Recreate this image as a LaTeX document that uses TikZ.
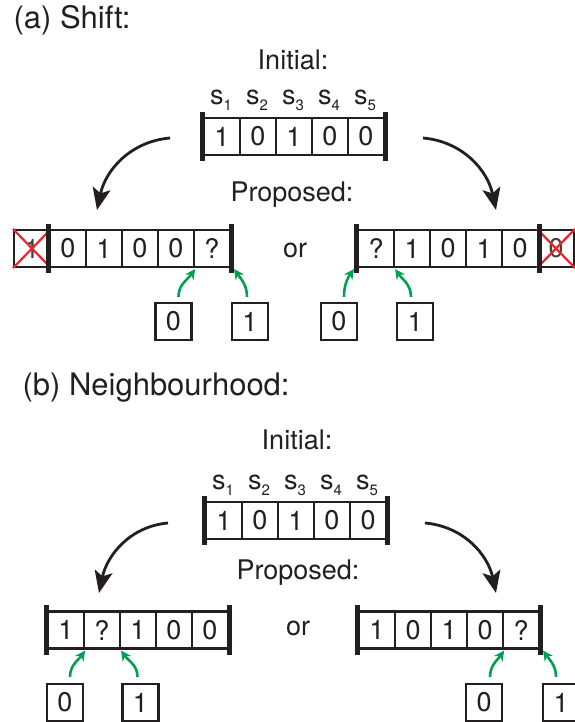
\documentclass[tikz,border=0pt]{standalone}
\usepackage{fontspec}
\setmainfont{TeX Gyre Heros}
\usetikzlibrary{arrows.meta}
\definecolor{ink}{RGB}{35,31,32}
\definecolor{feedgreen}{RGB}{0,160,80}
\definecolor{crossred}{RGB}{235,35,45}
\tikzset{
  cell/.style={draw=ink, line width=2.2pt, minimum width=36pt, minimum height=37pt, inner sep=0pt, text=ink, font=\fontsize{27}{27}\selectfont},
  bracket/.style={line width=5pt, ink},
  flow/.style={line width=2.8pt, ink, -{Stealth[length=22pt, width=18pt, inset=5pt]}},
  feed/.style={line width=2.6pt, feedgreen, -{Stealth[length=10pt, width=10pt]}},
  lbl/.style={text=ink, font=\fontsize{27}{27}\selectfont},
  head/.style={text=ink, font=\fontsize{31}{31}\selectfont, anchor=west},
  slab/.style={text=ink, font=\fontsize{27}{27}\selectfont, anchor=base, inner sep=0pt},
  cross/.style={crossred, line width=2.2pt},
}
\begin{document}
\begin{tikzpicture}[x=1pt, y=-1pt]
  \useasboundingbox (0,0) rectangle (574,722);
  % ---------- (a) shift ----------
  \node[head] (ha) at (10,20) {(a) Shift:};
  \node[lbl] (ia) at (293,60) {Initial:};
  \foreach \v [count=\i] in {1,0,1,0,0} {
    \node[cell] (a\i) at (204+36*\i-18,136.5) {\v};
    \node[slab] (as\i) at (204+36*\i-19,105) {s\raisebox{-6pt}{\fontsize{15}{15}\selectfont\i}};
  }
  \draw[bracket] ([yshift=5pt]a1.north west) -- ([yshift=-5pt]a1.south west);
  \draw[bracket] ([yshift=5pt]a5.north east) -- ([yshift=-5pt]a5.south east);
  \node[lbl] (pa) at (292,195) {Proposed:};
  \node[lbl] (oa) at (295,250) {or};
  % left proposal: everything moves one place left
  \node[cell, text=ink!85] (lx) at (32,248.5) {1};
  \draw[cross] (lx.north west) -- (lx.south east);
  \draw[cross] (lx.south west) -- (lx.north east);
  \foreach \v [count=\i] in {0,1,0,0,?}
    \node[cell] (l\i) at (50+36*\i-18,248.5) {\v};
  \draw[bracket] ([yshift=5pt]l1.north west) -- ([yshift=-5pt]l1.south west);
  \draw[bracket] ([yshift=5pt]l5.north east) -- ([yshift=-5pt]l5.south east);
  % right proposal: everything moves one place right
  \foreach \v [count=\i] in {?,1,0,1,0}
    \node[cell] (r\i) at (358+36*\i-18,248.5) {\v};
  \node[cell, text=ink!85] (rx) at (556,248.5) {0};
  \draw[cross] (rx.north west) -- (rx.south east);
  \draw[cross] (rx.south west) -- (rx.north east);
  \draw[bracket] ([yshift=5pt]r1.north west) -- ([yshift=-5pt]r1.south west);
  \draw[bracket] ([yshift=5pt]r5.north east) -- ([yshift=-5pt]r5.south east);
  % candidate bits
  \node[cell] (la0) at (173.5,321.5) {0};
  \node[cell] (la1) at (250,321.5) {1};
  \node[cell] (ra0) at (339,321.5) {0};
  \node[cell] (ra1) at (415,321.5) {1};
  \draw[feed] ([xshift=5pt,yshift=5pt]la0.north) to[out=90,in=235] ([yshift=-1pt]l4.south east);
  \draw[feed] ([xshift=-3pt,yshift=5pt]la1.north) to[out=90,in=305] ([xshift=3pt,yshift=-1pt]l5.south east);
  \draw[feed] ([xshift=5pt,yshift=5pt]ra0.north) to[out=90,in=235] ([xshift=-3pt,yshift=-1pt]r1.south west);
  \draw[feed] ([xshift=-4pt,yshift=5pt]ra1.north) to[out=90,in=305] ([yshift=-1pt]r1.south east);
  % big arrows
  \coordinate (fla) at (170,138);
  \coordinate (tla) at (97,210);
  \coordinate (fra) at (423,138);
  \coordinate (tra) at (496,210);
  \draw[flow] (fla) to[out=185,in=78] (tla);
  \draw[flow] (fra) to[out=-5,in=102] (tra);
  % ---------- (b) neighbourhood ----------
  \node[head] (hb) at (19,388) {(b) Neighbourhood:};
  \node[lbl] (ib) at (297,440) {Initial:};
  \foreach \v [count=\i] in {1,0,1,0,0} {
    \node[cell] (b\i) at (206+36*\i-18,520.5) {\v};
    \node[slab] (bs\i) at (206+36*\i-19,489) {s\raisebox{-6pt}{\fontsize{15}{15}\selectfont\i}};
  }
  \draw[bracket] ([yshift=5pt]b1.north west) -- ([yshift=-5pt]b1.south west);
  \draw[bracket] ([yshift=5pt]b5.north east) -- ([yshift=-5pt]b5.south east);
  \node[lbl] (pb) at (298,573) {Proposed:};
  \node[lbl] (ob) at (298,628) {or};
  \foreach \v [count=\i] in {1,?,1,0,0}
    \node[cell] (m\i) at (48+36*\i-18,630) {\v};
  \draw[bracket] ([yshift=5pt]m1.north west) -- ([yshift=-5pt]m1.south west);
  \draw[bracket] ([yshift=5pt]m5.north east) -- ([yshift=-5pt]m5.south east);
  \foreach \v [count=\i] in {1,0,1,0,?}
    \node[cell] (n\i) at (359+36*\i-18,630) {\v};
  \draw[bracket] ([yshift=5pt]n1.north west) -- ([yshift=-5pt]n1.south west);
  \draw[bracket] ([yshift=5pt]n5.north east) -- ([yshift=-5pt]n5.south east);
  \node[cell] (lb0) at (65,702.5) {0};
  \node[cell] (lb1) at (140.5,702.5) {1};
  \node[cell] (rb0) at (484,702.5) {0};
  \node[cell] (rb1) at (561,702.5) {1};
  \draw[feed] ([xshift=5pt,yshift=6pt]lb0.north) to[out=90,in=235] ([yshift=-1pt]m1.south east);
  \draw[feed] ([xshift=-3pt,yshift=6pt]lb1.north) to[out=90,in=305] ([yshift=-1pt]m2.south east);
  \draw[feed] ([xshift=6pt,yshift=6pt]rb0.north) to[out=90,in=235] ([yshift=-1pt]n4.south east);
  \draw[feed] ([xshift=-5pt,yshift=6pt]rb1.north) to[out=90,in=305] ([xshift=3pt,yshift=-1pt]n5.south east);
  \coordinate (flb) at (168,523);
  \coordinate (tlb) at (99,593);
  \coordinate (frb) at (425,523);
  \coordinate (trb) at (496,593);
  \draw[flow] (flb) to[out=185,in=78] (tlb);
  \draw[flow] (frb) to[out=-5,in=102] (trb);
\end{tikzpicture}
\end{document}
